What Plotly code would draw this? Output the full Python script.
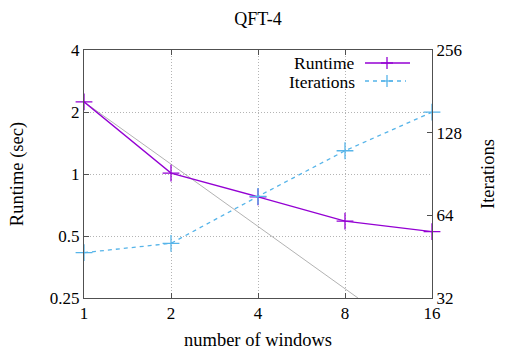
import plotly.graph_objects as go
import numpy as np

# values
windows = [1, 2, 4, 8, 16]
runtime = [2.24, 1.01, 0.775, 0.59, 0.525]      # seconds, left axis
iterations = [46.8, 50.6, 75, 110, 152]          # right axis
ideal_x = [1, 8.87]                              # thin ideal-scaling line
ideal_y = [2.24, 0.25]

purple = "#9400d3"
blue = "#56b4e9"
font = "Liberation Serif, Times New Roman, DejaVu Serif, serif"
tfont = dict(family=font, size=17, color="black")       # tick labels
lfont = dict(family=font, size=18.5, color="black")     # titles
kfont = dict(family=font, size=17.5, color="black")     # key text

fig = go.Figure()

fig.add_trace(go.Scatter(x=ideal_x, y=ideal_y, mode="lines",
                         line=dict(color="#909090", width=0.7),
                         showlegend=False, hoverinfo="skip"))
fig.add_trace(go.Scatter(x=windows, y=runtime, mode="lines+markers", name="Runtime",
                         line=dict(color=purple, width=1.3),
                         marker=dict(symbol="cross-thin", size=12,
                                     line=dict(color=purple, width=1.3)),
                         cliponaxis=False, showlegend=False))
fig.add_trace(go.Scatter(x=windows, y=iterations, mode="lines+markers", name="Iterations",
                         yaxis="y2",
                         line=dict(color=blue, width=1.3, dash="4px,4px"),
                         marker=dict(symbol="cross-thin", size=12,
                                     line=dict(color=blue, width=1.3)),
                         cliponaxis=False, showlegend=False))

# hand-made key: text on the left, sample on the right (gnuplot style)
px_w, px_h = 348.0, 248.0
shapes = [dict(type="rect", xref="paper", yref="paper", layer="between",
               x0=(250 - 84) / px_w, x1=1, y0=(298 - 88) / px_h, y1=1,
               fillcolor="white", line=dict(width=0))]
annotations = []
key = [("Runtime", purple, "solid", 63, 410), ("Iterations", blue, "4px,4px", 81, 406)]
for label, color, dash, ypx, xend in key:
    yp = (298 - ypx) / px_h
    annotations.append(dict(text=label, xref="paper", yref="paper",
                            x=(356 - 84) / px_w, y=yp, xanchor="right", yanchor="middle",
                            height=17, borderpad=0, showarrow=False, font=kfont))
    shapes.append(dict(type="line", xref="paper", yref="paper",
                       x0=(365 - 84) / px_w, x1=(xend - 84) / px_w, y0=yp, y1=yp,
                       line=dict(color=color, width=1.3, dash=dash)))
    cx = (387 - 84) / px_w
    shapes.append(dict(type="line", xref="paper", yref="paper",
                       x0=cx - 6 / px_w, x1=cx + 6 / px_w, y0=yp, y1=yp,
                       line=dict(color=color, width=1.3)))
    shapes.append(dict(type="line", xref="paper", yref="paper",
                       x0=cx, x1=cx, y0=yp - 6 / px_h, y1=yp + 6 / px_h,
                       line=dict(color=color, width=1.3)))

axis_common = dict(showline=True, linecolor="#505050", linewidth=1,
                   ticks="inside", ticklen=5, tickcolor="#505050",
                   zeroline=False, automargin=False, tickfont=tfont)
grid = dict(showgrid=True, gridcolor="#b4b4b4", gridwidth=0.6, griddash="1px,2px")

fig.update_layout(
    width=531, height=354,
    margin=dict(l=84, r=99, t=50, b=56),
    paper_bgcolor="white", plot_bgcolor="white",
    font=tfont,
    title=dict(text="QFT-4", x=258 / 531, xanchor="center", y=1 - 19 / 354, yanchor="middle",
               font=dict(family=font, size=18, color="black")),
    xaxis=dict(type="log", range=[0, np.log10(16)], tickvals=windows,
               ticktext=[str(w) for w in windows], mirror="ticks",
               title=dict(text="number of windows", standoff=10, font=lfont),
               **grid, **axis_common),
    yaxis=dict(type="log", range=[np.log10(0.25), np.log10(4)],
               tickvals=[0.25, 0.5, 1, 2, 4], ticktext=["0.25", "0.5", "1", "2", "4"],
               title=dict(text="Runtime (sec)", standoff=21, font=lfont), **grid, **axis_common),
    yaxis2=dict(type="log", range=[np.log10(32), np.log10(256)], overlaying="y", side="right",
                tickvals=[32, 64, 128, 256], ticktext=["32", "64", "128", "256"],
                showgrid=False, title=dict(text="Iterations", standoff=20, font=lfont),
                **axis_common),
    shapes=shapes, annotations=annotations,
)

# page has a default 8px body margin; drop it so the figure fills the window
fig.write_html("out.html", config={"displayModeBar": False},
               post_script="document.body.style.margin='0px';")
